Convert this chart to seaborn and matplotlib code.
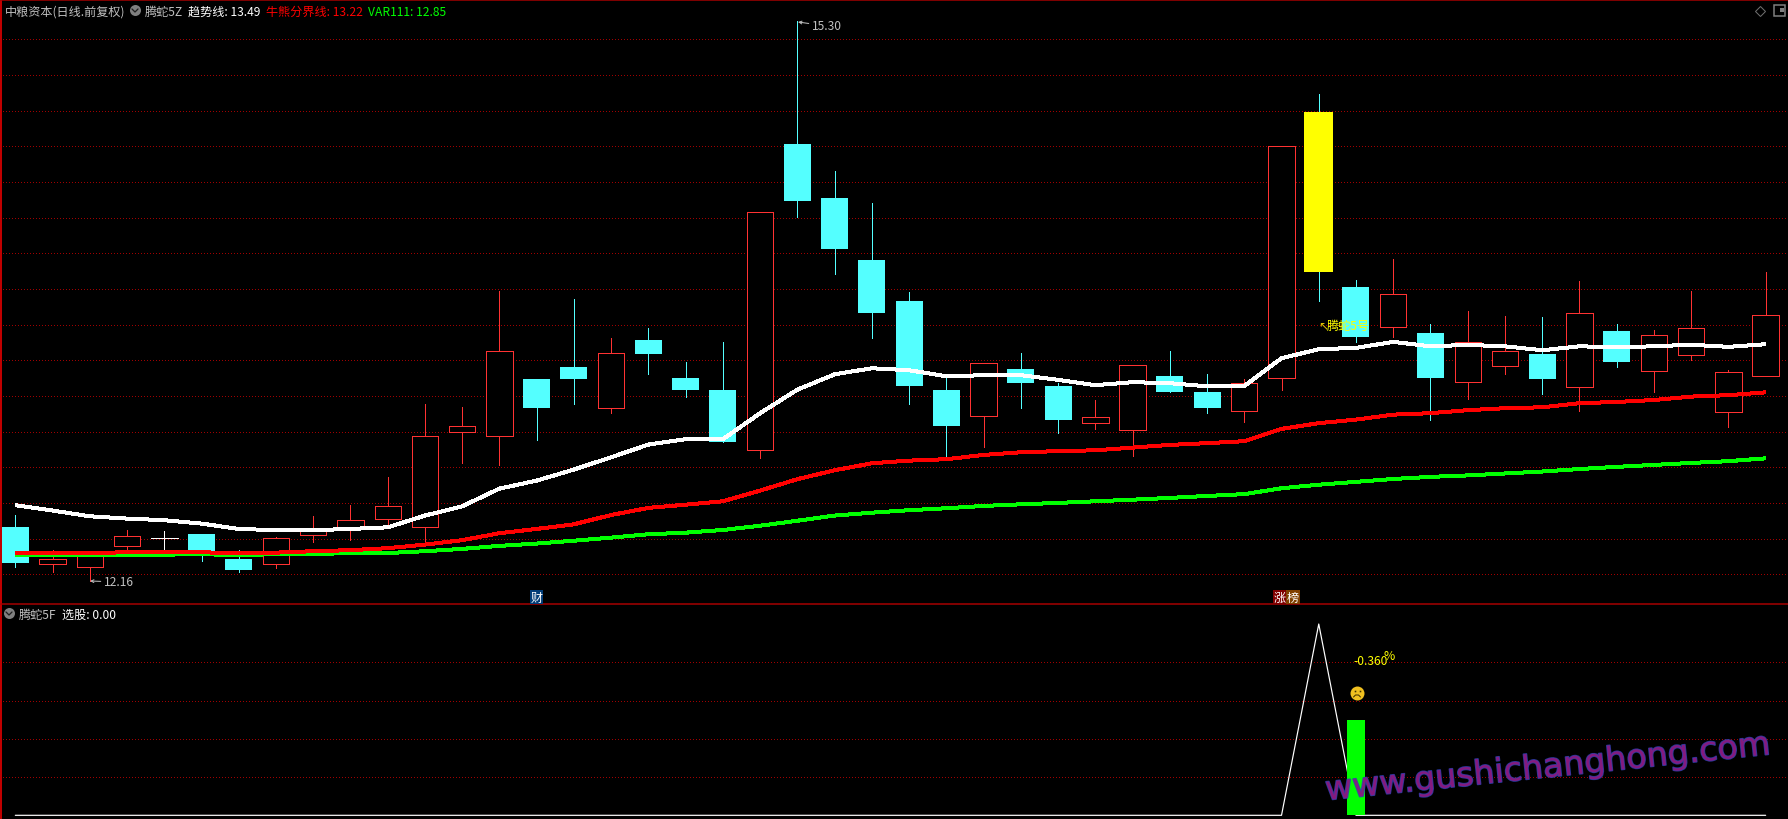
import matplotlib
matplotlib.use("Agg")
import matplotlib.pyplot as plt
import matplotlib.patheffects as pe
import numpy as np
import pandas as pd
import seaborn as sns

# One value per trading day
opens = [12.465, 12.259, 12.239, 12.360, 12.402, 12.426, 12.286, 12.259, 12.422, 12.454, 12.512, 12.467,
         13.000, 12.974, 13.295, 13.362, 13.131, 13.514, 13.301, 13.233, 12.899, 14.613, 14.310, 13.962,
         13.733, 13.233, 13.089, 13.351, 13.256, 13.050, 13.011, 13.312, 13.222, 13.117, 13.299, 14.792,
         13.811, 13.588, 13.553, 13.280, 13.370, 13.435, 13.252, 13.564, 13.342, 13.431, 13.112, 13.310]
highs = [12.532, 12.336, 12.319, 12.448, 12.441, 12.426, 12.336, 12.409, 12.527, 12.589, 12.746, 13.153,
         13.138, 13.789, 13.295, 13.744, 13.525, 13.581, 13.390, 13.503, 14.230, 15.300, 14.462, 14.282,
         13.781, 13.306, 13.383, 13.441, 13.273, 13.176, 13.372, 13.452, 13.323, 13.295, 14.600, 14.893,
         13.850, 13.968, 13.604, 13.676, 13.648, 13.643, 13.845, 13.604, 13.570, 13.789, 13.346, 13.895]
lows = [12.243, 12.215, 12.160, 12.329, 12.342, 12.276, 12.215, 12.237, 12.383, 12.394, 12.469, 12.357,
        12.826, 12.815, 12.955, 13.157, 13.106, 13.323, 13.196, 12.944, 12.854, 14.205, 13.884, 13.525,
        13.155, 12.852, 12.915, 13.133, 12.992, 13.015, 12.865, 13.222, 13.106, 13.056, 13.235, 13.734,
        13.504, 13.532, 13.067, 13.183, 13.325, 13.211, 13.116, 13.364, 13.224, 13.403, 13.026, 13.310]
closes = [12.263, 12.284, 12.319, 12.413, 12.402, 12.331, 12.224, 12.402, 12.448, 12.503, 12.581, 12.974,
          13.030, 13.450, 13.133, 13.295, 13.439, 13.435, 13.233, 12.944, 14.230, 14.295, 14.024, 13.665,
          13.256, 13.033, 13.383, 13.274, 13.065, 13.080, 13.372, 13.222, 13.133, 13.273, 14.600, 13.897,
          13.532, 13.770, 13.302, 13.501, 13.450, 13.295, 13.664, 13.390, 13.540, 13.579, 13.333, 13.652]

trend_line = [12.587, 12.557, 12.525, 12.512, 12.503, 12.484, 12.454, 12.447, 12.447, 12.454, 12.463, 12.529,
              12.581, 12.680, 12.725, 12.787, 12.856, 12.927, 12.957, 12.957, 13.103, 13.235, 13.321, 13.355,
              13.344, 13.310, 13.316, 13.316, 13.290, 13.260, 13.277, 13.271, 13.254, 13.256, 13.411, 13.462,
              13.469, 13.503, 13.478, 13.486, 13.478, 13.456, 13.478, 13.473, 13.478, 13.487, 13.475, 13.490]
bull_bear_line = [12.319, 12.319, 12.319, 12.323, 12.325, 12.323, 12.318, 12.321, 12.329, 12.335, 12.346, 12.366,
                  12.391, 12.430, 12.454, 12.480, 12.532, 12.572, 12.590, 12.609, 12.669, 12.733, 12.783, 12.822,
                  12.837, 12.845, 12.869, 12.884, 12.890, 12.895, 12.910, 12.925, 12.935, 12.946, 13.015, 13.047,
                  13.067, 13.095, 13.103, 13.120, 13.131, 13.136, 13.159, 13.166, 13.177, 13.196, 13.204, 13.220]
var111_line = [12.308, 12.307, 12.307, 12.308, 12.310, 12.312, 12.308, 12.312, 12.314, 12.318, 12.319, 12.329,
               12.342, 12.359, 12.372, 12.388, 12.405, 12.424, 12.433, 12.448, 12.472, 12.500, 12.529, 12.545,
               12.559, 12.570, 12.583, 12.592, 12.600, 12.609, 12.618, 12.628, 12.639, 12.649, 12.682, 12.702,
               12.718, 12.734, 12.746, 12.754, 12.765, 12.776, 12.790, 12.802, 12.813, 12.824, 12.834, 12.850]

# Lower pane
pick_signal = [0, 0, 0, 0, 0, 0, 0, 0, 0, 0, 0, 0, 0, 0, 0, 0, 0, 0, 0, 0, 0, 0, 0, 0,
               0, 0, 0, 0, 0, 0, 0, 0, 0, 0, 0, 1, 0, 0, 0, 0, 0, 0, 0, 0, 0, 0, 0, 0]
signal_bar_day = 36
signal_bar_value = 0.5
yellow_day = 35

price_grid = [12.2, 12.4, 12.6, 12.8, 13.0, 13.2, 13.4, 13.6, 13.8, 14.0, 14.2, 14.4, 14.6, 14.8, 15.0, 15.2]
signal_grid = [0.2, 0.4, 0.6, 0.8]

RED = "#ff3232"
CYAN = "#54ffff"
GRID = "#a00000"
FRAME = "#a80000"
GREY = "#c0c0c0"
PX = 0.72  # one pixel in points at dpi 100

sns.set_theme(style="dark", rc={"axes.facecolor": "black", "figure.facecolor": "black"})
plt.rcParams["font.family"] = ["Noto Sans CJK SC", "DejaVu Sans"]

df = pd.DataFrame({"day": np.arange(len(opens)), "open": opens, "high": highs, "low": lows, "close": closes,
                   "trend": trend_line, "bull": bull_bear_line, "var111": var111_line, "signal": pick_signal})

fig = plt.figure(figsize=(17.88, 8.2), dpi=100)
ax = fig.add_axes([0, 215 / 820, 1, 604 / 820])
ax2 = fig.add_axes([0, 0, 1, 215 / 820])
# pixel overlay for the header texts and icons
top = fig.add_axes([0, 0, 1, 1], facecolor="none")
top.set_xlim(0, 1788)
top.set_ylim(820, 0)
top.axis("off")

xlim = (-0.411, 47.6)
for a, grid_vals in ((ax, price_grid), (ax2, signal_grid)):
    a.set_facecolor("black")
    a.set_xlim(*xlim)
    a.set_yticks(grid_vals)
    a.set_xticks([])
    a.tick_params(length=0, labelleft=False, labelbottom=False)
    a.grid(axis="y", color=GRID, linestyle=(0, (1, 2.5)), linewidth=PX, antialiased=False)
    a.grid(axis="x", visible=False)
    a.set_axisbelow(True)
    for side in ("right", "bottom"):
        a.spines[side].set_visible(False)
    a.spines["top"].set_color(FRAME)
    a.spines["top"].set_linewidth(1.5 * PX)
    a.spines["left"].set_color("#c00000")
    a.spines["left"].set_linewidth(3 * PX)
ax.set_ylim(12.033, 15.420)
ax2.set_ylim(-0.0193, 1.1046)

# candles
up = df[df["close"] > df["open"]]
down = df[(df["close"] < df["open"]) & (df["day"] != yellow_day)]
doji = df[df["close"] == df["open"]]
yellow = df[df["day"] == yellow_day]

ax.vlines(up["day"], up["low"], up["high"], color=RED, linewidth=PX, antialiased=False, zorder=2)
ax.vlines(down["day"], down["low"], down["high"], color=CYAN, linewidth=PX, antialiased=False, zorder=2)
ax.vlines(yellow["day"], yellow["low"], yellow["high"], color=CYAN, linewidth=PX, antialiased=False, zorder=2)
ax.vlines(doji["day"], doji["low"], doji["high"], color="white", linewidth=PX, antialiased=False, zorder=2)
ax.hlines(doji["close"], doji["day"] - 0.36, doji["day"] + 0.36, color="white", linewidth=PX,
          antialiased=False, zorder=2)
ax.bar(up["day"], up["close"] - up["open"], bottom=up["open"], width=0.71, facecolor="black",
       edgecolor=RED, linewidth=0.8 * PX, antialiased=False, zorder=3)
ax.bar(down["day"], down["open"] - down["close"], bottom=down["close"], width=0.725, color=CYAN,
       linewidth=0, antialiased=False, zorder=3)
ax.bar(yellow["day"], yellow["open"] - yellow["close"], bottom=yellow["close"], width=0.78, color="#ffff00",
       linewidth=0, antialiased=False, zorder=3)

# moving lines
for col, colour in (("trend", "white"), ("var111", "#00ff00"), ("bull", "#ff0000")):
    sns.lineplot(data=df, x="day", y=col, color=colour, linewidth=3 * PX, ax=ax, estimator=None,
                 errorbar=None, antialiased=False, zorder=4, solid_capstyle="butt")
ax.set_xlabel("")
ax.set_ylabel("")

# lower pane
sns.lineplot(data=df, x="day", y="signal", color="white", linewidth=1.2 * PX, ax=ax2, estimator=None,
             errorbar=None, zorder=3)
ax2.bar(signal_bar_day, signal_bar_value, width=0.51, color="#00ff00", linewidth=0, antialiased=False, zorder=4)
ax2.set_xlabel("")
ax2.set_ylabel("")
ax2.set_xlim(*xlim)
ax2.set_ylim(-0.0193, 1.1046)

# header
FS = 8.7
top.text(5, 12, "中粮资本(日线.前复权)", color=GREY, fontsize=FS, va="center")
top.text(145, 12, "腾蛇5Z", color=GREY, fontsize=FS, va="center")
top.text(188, 12, "趋势线: 13.49", color="white", fontsize=FS, va="center")
top.text(266, 12, "牛熊分界线: 13.22", color="#ff0000", fontsize=FS, va="center")
top.text(368, 12, "VAR111: 12.85", color="#00ff00", fontsize=FS, va="center")
top.text(19, 615, "腾蛇5F", color=GREY, fontsize=FS, va="center")
top.text(62, 615, "选股: 0.00", color="white", fontsize=FS, va="center")
for cx, cy in ((135, 11), (9, 614)):
    top.plot(cx, cy, "o", ms=11 * PX, color="#808080", mew=0)
    top.plot([cx - 3, cx, cx + 3], [cy - 1, cy + 2, cy - 1], color="#202020", lw=1.3 * PX)

# top right icons
top.plot(1760, 11.5, "D", ms=7.5 * PX, mfc="none", mec="#707070", mew=PX)
top.plot(1779, 11, "s", ms=11 * PX, mfc="none", mec="#808080", mew=1.5 * PX)
top.plot(1781.5, 11, "s", ms=5 * PX, color="#808080", mew=0)

# high and low labels
top.annotate("15.30", xy=(798, 23), xytext=(812, 27), color=GREY, fontsize=FS, va="center",
             arrowprops=dict(arrowstyle="->", color=GREY, lw=PX, shrinkA=0, shrinkB=0, mutation_scale=5))
top.annotate("12.16", xy=(90, 582), xytext=(104, 583), color=GREY, fontsize=FS, va="center",
             arrowprops=dict(arrowstyle="->", color=GREY, lw=PX, shrinkA=0, shrinkB=0, mutation_scale=5))

# signal text
top.text(1318, 326, "↖", color="#e0c000", fontsize=FS, va="center", family=["DejaVu Sans"])
top.text(1327, 326, "腾蛇5号", color="#ffff00", fontsize=FS, va="center")
top.text(1353, 662, "-0.360", color="#ffff00", fontsize=FS, va="center")
top.text(1384, 657, "%", color="#ffff00", fontsize=FS, va="center")

# sad face
face_x, face_y = 1357, 694
top.plot(face_x, face_y, "o", ms=14 * PX, color="#f0c020", mew=0)
top.plot([face_x - 2.5, face_x + 2.5], [face_y - 2, face_y - 2], ls="", marker="s", ms=1.6 * PX, color="#403000", mew=0)
top.plot([face_x - 3.5, face_x - 1.5, face_x + 1.5, face_x + 3.5],
         [face_y + 4, face_y + 2, face_y + 2, face_y + 4], color="#403000", lw=PX)

# event tags under the price pane
top.text(536.5, 598, "财", color="white", fontsize=FS, ha="center", va="center",
         bbox=dict(boxstyle="square,pad=0.05", fc="#003c78", ec="none"))
top.text(1280, 598, "涨", color="white", fontsize=FS, ha="center", va="center",
         bbox=dict(boxstyle="square,pad=0.05", fc="#800000", ec="none"))
top.text(1293, 598, "榜", color="white", fontsize=FS, ha="center", va="center",
         bbox=dict(boxstyle="square,pad=0.05", fc="#804000", ec="none"))

# watermark
top.text(1772, 755, "www.gushichanghong.com", color="#8a1a80", fontsize=24, family=["DejaVu Sans"],
         rotation=5.9, rotation_mode="anchor", ha="right", va="baseline", alpha=0.85,
         path_effects=[pe.withStroke(linewidth=1.2, foreground="#3040b0")])

fig.savefig("out.png", dpi=100, facecolor="black")
